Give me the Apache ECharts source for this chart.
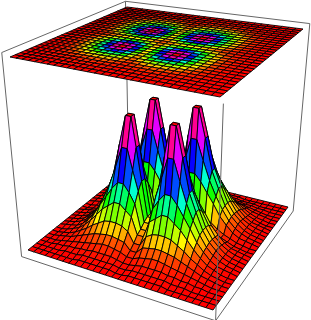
<!DOCTYPE html>
<html><head><meta charset="utf-8">
<style>html,body{margin:0;padding:0;background:#fff}#c{width:311px;height:320px}</style>
<script src="https://cdn.jsdelivr.net/npm/echarts@6/dist/echarts.min.js"></script>
</head><body><div id="c"></div>
<script>
// Heights, in percent of the tallest point, one list per grid row
const row0 = [0,0,0,0,0,0,0,0,0,0,0,0,0,0,0,0,0,0,0,0,0,0,0,0,0,0,0,0,0,0];
const row1 = [0,0,0,0,0,0,0,0,1,1,1,1,1,1,0,0,1,1,1,1,1,1,0,0,0,0,0,0,0,0];
const row2 = [0,0,0,0,0,1,1,1,2,2,2,2,2,2,1,1,2,2,2,2,2,2,1,1,1,0,0,0,0,0];
const row3 = [0,0,0,1,1,2,2,3,3,4,4,4,4,3,2,2,3,4,4,4,4,3,3,2,2,1,1,0,0,0];
const row4 = [0,0,0,1,2,3,4,5,6,7,8,8,7,6,4,4,6,7,8,8,7,6,5,4,3,2,1,0,0,0];
const row5 = [0,0,1,2,3,5,7,9,11,12,13,13,12,11,6,6,11,12,13,13,12,11,9,7,5,3,2,1,0,0];
const row6 = [0,0,1,2,4,7,10,14,17,20,21,21,20,17,9,9,17,20,21,21,20,17,14,10,7,4,2,1,0,0];
const row7 = [0,0,1,3,5,9,14,20,26,30,34,34,30,26,13,13,26,30,34,34,30,26,20,14,9,5,3,1,0,0];
const row8 = [0,1,2,3,6,11,17,26,34,42,48,48,42,34,15,15,34,42,48,48,42,34,26,17,11,6,3,2,1,0];
const row9 = [0,1,2,4,7,12,20,30,42,58,75,75,58,42,18,18,42,58,75,75,58,42,30,20,12,7,4,2,1,0];
const rowPeak = [0,1,2,4,8,13,21,34,48,75,100,100,75,48,20,20,48,75,100,100,75,48,34,21,13,8,4,2,1,0];
const rowMid = [0,0,1,2,4,6,9,13,15,18,20,20,18,15,10,10,15,18,20,20,18,15,13,9,6,4,2,1,0,0];
const heights = [row0,row1,row2,row3,row4,row5,row6,row7,row8,row9,rowPeak,rowPeak,row9,row8,rowMid,rowMid,row8,row9,rowPeak,rowPeak,row9,row8,row7,row6,row5,row4,row3,row2,row1,row0];
// Colour scale: height percent against hue (fraction of the colour wheel)
const scaleHeights = [0,5,10,20,30,40,56,70,83,100];
const scaleHues = [0,0.02,0.055,0.17,0.28,0.42,0.62,0.75,0.87,1];

// Camera calibration: where the unit surface's corners fall at z=0 and z=1
const baseQuad = [[28,250],[213,310],[288,207],[130,168]];
const topQuad  = [[10,57],[220,97],[303,29],[127,7]];
const peakZ = 0.63, lean = 0.2;
const boxPad = 0.024, boxBelow = -0.028, boxAbove = 1.027;

function homography(q){
  const [x0,y0]=q[0],[x1,y1]=q[1],[x2,y2]=q[2],[x3,y3]=q[3];
  const dx1=x1-x2,dx2=x3-x2,sx=x0-x1+x2-x3,dy1=y1-y2,dy2=y3-y2,sy=y0-y1+y2-y3;
  const den=dx1*dy2-dx2*dy1,g=(sx*dy2-dx2*sy)/den,h=(dx1*sy-sx*dy1)/den;
  const a=x1-x0+g*x1,b=x3-x0+h*x3,d=y1-y0+g*y1,e=y3-y0+h*y3;
  return (u,v)=>{const w=g*u+h*v+1;return [(a*u+b*v+x0)/w,(d*u+e*v+y0)/w];};
}
const hBase=homography(baseQuad),hTop=homography(topQuad);
function project(u,v,z){const p=hBase(u,v),q=hTop(u,v);return [p[0]+(q[0]-p[0])*z,p[1]+(q[1]-p[1])*z];}
function projectRelief(u,v,z){const k=1-lean*z;return project(0.5+(u-0.5)*k,0.5+(v-0.5)*k,z);}
function hueOf(h){
  for(let i=1;i<scaleHeights.length;i++) if(h<=scaleHeights[i]){
    const t=(h-scaleHeights[i-1])/(scaleHeights[i]-scaleHeights[i-1]);
    return 360*(scaleHues[i-1]+(scaleHues[i]-scaleHues[i-1])*t);
  }
  return 360;
}

const n=heights.length-1;
const cells=[];
// back to front; surface 0 lies on the floor with relief, surface 1 is the flat lid
for(const s of [0,1]) for(let b=n-1;b>=0;b--) for(let a=0;a<n;a++) cells.push([s,a,b]);

function renderCell(params,api){
  const s=api.value(0),a=api.value(1),b=api.value(2);
  const corners=[[a,b],[a+1,b],[a+1,b+1],[a,b+1]];
  let sum=0;
  const pts=corners.map(([i,j])=>{
    const h=heights[j][i];sum+=h;
    return api.coord(s===1?project(i/n,j/n,1):projectRelief(i/n,j/n,h/100*peakZ));
  });
  return {type:'polygon',shape:{points:pts},style:{fill:'hsl('+hueOf(sum/4)+',100%,50%)',stroke:'#000',lineWidth:0.9}};
}
const p=boxPad,lo=-p,hi=1+p;
const backFrame=[project(lo,lo,boxBelow),project(lo,lo,boxAbove),project(lo,hi,boxAbove),project(hi,hi,boxAbove),project(hi,hi,boxBelow),null,project(lo,hi,boxAbove),project(lo,hi,0.3)];
const frontFrame=[project(lo,lo,boxBelow),project(hi,lo,boxBelow),project(hi,hi,boxBelow),null,project(hi,lo,boxBelow),project(hi,lo,0.985)];
const frameStyle={color:'#666',width:1};
const chart=echarts.init(document.getElementById('c'),null,{renderer:'canvas'});
chart.setOption({
  animation:false,
  grid:{left:0,right:0,top:0,bottom:0},
  xAxis:{type:'value',min:0,max:311,show:false},
  yAxis:{type:'value',min:0,max:320,inverse:true,show:false},
  series:[
    {type:'line',z:1,symbol:'none',silent:true,data:backFrame,lineStyle:frameStyle,connectNulls:false},
    {type:'custom',z:2,silent:true,clip:false,data:cells,renderItem:renderCell,encode:{x:1,y:2}},
    {type:'line',z:3,symbol:'none',silent:true,data:frontFrame,lineStyle:frameStyle,connectNulls:false}
  ]
});
</script></body></html>
